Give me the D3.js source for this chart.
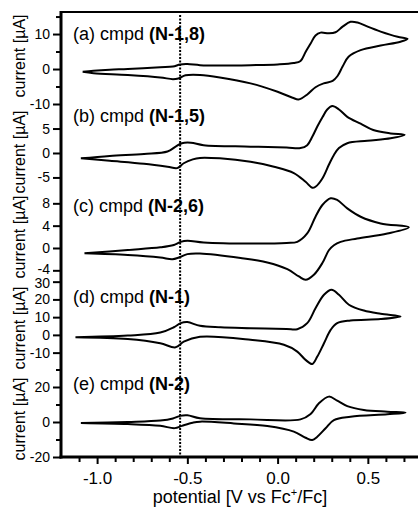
<!DOCTYPE html>
<html><head><meta charset="utf-8">
<script src="https://cdn.jsdelivr.net/npm/d3@7"></script>
<style>
html,body{margin:0;padding:0;background:#fff;}
svg{display:block;}
text{font-family:"Liberation Sans",Arial,sans-serif;fill:#000;}
</style></head><body>
<svg id="chart" width="418" height="507"></svg>
<script>
// ---------------- data ----------------
const potentialDomain = [-1.2, 0.8];
const potentialMajorTicks = [-1.0, -0.5, 0.0, 0.5];
const potentialMinorTicks = [-1.1,-0.9,-0.8,-0.7,-0.6,-0.4,-0.3,-0.2,-0.1,0.1,0.2,0.3,0.4,0.6,0.7];
const markerPotential = -0.54;

const panelLetters = ["(a)", "(b)", "(c)", "(d)", "(e)"];
const compoundNames = ["(N-1,8)", "(N-1,5)", "(N-2,6)", "(N-1)", "(N-2)"];
const currentDomains = [[-11, 16.3], [-9, 9.2], [-5.5, 8.9], [-19, 31.5], [-20, 30]];
const currentTicks = [[-10,-5,0,5,10,15], [-5,0,5], [-4,0,4,8], [-10,0,10,20,30], [-20,-10,0,10,20,30]];
const currentTickLabels = [[-10,0,10], [-5,0,5], [-4,0,4,8], [-10,0,10,20,30], [-20,0,20]];

// cyclic voltammograms: [potential V, current µA], forward scan then reverse scan
const cvA = [[-1.08,-0.8],[-1.02,-0.5],[-0.93,-0.2],[-0.83,0.0],[-0.65,0.5],[-0.58,0.7],[-0.54,1.3],[-0.50,1.4],[-0.43,1.1],[-0.32,1.0],[-0.15,1.1],[0.0,1.3],[0.089,1.7],[0.127,2.3],[0.155,4.9],[0.183,7.3],[0.21,9.6],[0.238,10.4],[0.283,10.2],[0.321,10.5],[0.36,12.1],[0.404,13.5],[0.443,13.3],[0.499,12.1],[0.571,10.7],[0.665,9.2],[0.72,8.6],
  [0.681,7.8],[0.571,6.7],[0.46,5.4],[0.393,3.5],[0.36,0.7],[0.332,-2.0],[0.305,-3.4],[0.255,-4.1],[0.21,-5.2],[0.166,-7.2],[0.116,-8.7],[0.083,-8.2],[0.0,-6.5],[-0.15,-4.1],[-0.32,-2.4],[-0.43,-1.7],[-0.51,-1.8],[-0.55,-2.7],[-0.58,-2.9],[-0.65,-2.4],[-0.83,-1.7],[-1.02,-1.2],[-1.08,-0.8]];
const cvB = [[-1.09,-1.1],[-0.93,-0.6],[-0.74,-0.2],[-0.61,0.3],[-0.565,1.3],[-0.53,2.0],[-0.48,2.1],[-0.41,1.6],[-0.15,1.3],[0.05,1.1],[0.127,1.0],[0.164,1.6],[0.192,3.3],[0.22,5.4],[0.25,7.4],[0.275,8.9],[0.303,9.6],[0.34,8.9],[0.386,7.4],[0.46,6.0],[0.53,4.7],[0.626,4.0],[0.704,3.7],
  [0.626,3.0],[0.497,2.5],[0.386,2.0],[0.34,1.0],[0.312,-0.4],[0.284,-2.4],[0.248,-5.2],[0.21,-6.9],[0.192,-7.1],[0.155,-5.9],[0.09,-4.1],[-0.02,-2.8],[-0.15,-1.8],[-0.32,-1.1],[-0.43,-1.0],[-0.47,-1.3],[-0.52,-2.1],[-0.556,-3.1],[-0.61,-2.8],[-0.74,-2.2],[-0.93,-1.6],[-1.09,-1.1]];
const cvC = [[-1.07,-0.95],[-0.83,-0.36],[-0.65,0.12],[-0.575,0.54],[-0.537,1.1],[-0.5,1.3],[-0.41,1.0],[-0.15,0.8],[0.05,0.9],[0.109,1.1],[0.164,2.6],[0.21,5.6],[0.248,7.7],[0.294,8.9],[0.33,8.6],[0.386,7.1],[0.46,5.6],[0.571,4.4],[0.727,3.7],
  [0.608,2.6],[0.441,1.7],[0.349,1.1],[0.312,0.5],[0.284,-0.4],[0.248,-2.7],[0.201,-4.8],[0.155,-5.7],[0.118,-5.1],[0.054,-3.8],[-0.057,-2.6],[-0.205,-1.8],[-0.43,-1.0],[-0.5,-1.1],[-0.547,-1.7],[-0.583,-2.0],[-0.65,-1.7],[-0.83,-1.25],[-1.07,-0.95]];
const cvD = [[-1.12,-1.3],[-0.83,-0.4],[-0.65,1.3],[-0.575,4.3],[-0.537,6.6],[-0.5,7.2],[-0.43,5.1],[-0.316,4.3],[-0.15,3.8],[0.05,3.3],[0.109,3.2],[0.164,6.6],[0.21,15],[0.257,22.6],[0.299,25.4],[0.34,22.6],[0.395,17],[0.478,13.7],[0.571,11.9],[0.681,10.4],
  [0.571,8.9],[0.404,8.1],[0.33,6.6],[0.294,2.8],[0.257,-4.7],[0.22,-12.2],[0.192,-16.4],[0.155,-14.1],[0.109,-9.4],[0.035,-5.6],[-0.15,-2.8],[-0.43,-1.1],[-0.52,-3.8],[-0.565,-7.0],[-0.65,-4.7],[-0.83,-2.3],[-1.12,-1.3]];
const cvE = [[-1.09,-0.6],[-0.83,0.0],[-0.65,0.8],[-0.58,2.0],[-0.54,3.5],[-0.5,3.8],[-0.43,2.1],[-0.15,1.5],[0.127,1.5],[0.183,4.6],[0.229,10.7],[0.284,14.5],[0.33,12.2],[0.386,9.1],[0.478,6.9],[0.608,5.9],[0.709,5.3],
  [0.608,4.4],[0.404,3.0],[0.312,1.1],[0.266,-3.6],[0.22,-8.4],[0.192,-10.3],[0.155,-9.0],[0.09,-5.5],[-0.057,-2.3],[-0.242,-0.8],[-0.43,0.2],[-0.47,-0.4],[-0.53,-2.2],[-0.57,-3.5],[-0.65,-2.2],[-0.83,-1.2],[-1.09,-0.6]];
const cvSeries = [cvA, cvB, cvC, cvD, cvE];

const xAxisTitle = "potential [V vs Fc";
const yAxisTitle = "current [µA]";

// ---------------- layout ----------------
const plotLeft = 61, plotRight = 422, plotTop = 12, plotBottom = 457;
const bands = [[12,107.5],[108,197],[198.3,278.7],[279,368.6],[369.5,457]];
const labelBaselines = [40,122,212,303,390];
const labelX = 73;
const titleCenters = [56,152,237,328,419];
const fmt = d => (d < 0 ? "-" : "") + String(Math.abs(d));
const fmtX = d => (d < 0 ? "-" : "") + Math.abs(d).toFixed(1);

const svg = d3.select("#chart");
svg.append("rect").attr("width",418).attr("height",507).attr("fill","#fff");

const x = d3.scaleLinear().domain(potentialDomain).range([plotLeft, plotRight]);

cvSeries.forEach((cv, i) => {
  const y = d3.scaleLinear().domain(currentDomains[i]).range([bands[i][1], bands[i][0]]);
  const line = d3.line().x(d => x(d[0])).y(d => y(d[1])).curve(d3.curveCatmullRom.alpha(0.5));
  svg.append("path").datum(cv).attr("d", line)
    .attr("fill","none").attr("stroke","#000").attr("stroke-width",2).attr("stroke-linejoin","round");

  const labeled = currentTickLabels[i];
  const minor = currentTicks[i].filter(t => !labeled.includes(t));
  const gMaj = svg.append("g").attr("transform",`translate(${plotLeft},0)`)
    .call(d3.axisLeft(y).tickValues(labeled).tickFormat(fmt).tickSize(8).tickPadding(3).tickSizeOuter(0));
  const gMin = svg.append("g").attr("transform",`translate(${plotLeft},0)`)
    .call(d3.axisLeft(y).tickValues(minor).tickFormat("").tickSize(5).tickSizeOuter(0));
  [gMaj, gMin].forEach(g => {
    g.select(".domain").remove();
    g.selectAll("line").attr("stroke","#000").attr("stroke-width",2);
  });
  const last = labeled.length - 1;
  gMaj.selectAll("text").attr("font-size",14).attr("font-family","Liberation Sans, Arial, sans-serif").attr("fill","#000")
    .attr("dy", (d, j) => {
      // keep labels of neighbouring panels from touching at the band edges
      if (i === 2 && d === labeled[0]) return "0.2em";
      if (i === 3 && d === labeled[last]) return "0.45em";
      return "0.32em";
    });

  // panel label
  const t = svg.append("text").attr("x",labelX).attr("y",labelBaselines[i]).attr("font-size",18);
  t.append("tspan").text(panelLetters[i] + " cmpd ");
  t.append("tspan").attr("font-weight","bold").text(compoundNames[i]);

  // y title
  svg.append("text").attr("transform",`translate(25,${titleCenters[i]}) rotate(-90)`)
    .attr("text-anchor","middle").attr("font-size",16).text(yAxisTitle);
});

// dotted marker line
svg.append("line").attr("x1",x(markerPotential)).attr("x2",x(markerPotential))
  .attr("y1",15).attr("y2",plotBottom)
  .attr("stroke","#000").attr("stroke-width",2).attr("stroke-dasharray","2,1.5");

// x axis
const gxMaj = svg.append("g").attr("transform",`translate(0,${plotBottom})`)
  .call(d3.axisBottom(x).tickValues(potentialMajorTicks).tickFormat(fmtX).tickSize(7).tickSizeOuter(0));
const gxMin = svg.append("g").attr("transform",`translate(0,${plotBottom})`)
  .call(d3.axisBottom(x).tickValues(potentialMinorTicks).tickFormat("").tickSize(5).tickSizeOuter(0));
[gxMaj, gxMin].forEach(g => {
  g.select(".domain").remove();
  g.selectAll("line").attr("stroke","#000").attr("stroke-width",2);
});
gxMaj.selectAll("text").attr("y",27).attr("dy",null).attr("font-size",17)
  .attr("font-family","Liberation Sans, Arial, sans-serif").attr("fill","#000");

// frame lines
svg.append("line").attr("x1",plotLeft).attr("x2",plotRight).attr("y1",plotTop).attr("y2",plotTop)
  .attr("stroke","#000").attr("stroke-width",2);
svg.append("line").attr("x1",plotLeft).attr("x2",plotLeft).attr("y1",plotTop-1).attr("y2",plotBottom+1.5)
  .attr("stroke","#000").attr("stroke-width",3);
svg.append("line").attr("x1",plotLeft-1.5).attr("x2",plotRight).attr("y1",plotBottom).attr("y2",plotBottom)
  .attr("stroke","#000").attr("stroke-width",3);

// x title
const xt = svg.append("text").attr("x",240).attr("y",503).attr("text-anchor","middle").attr("font-size",18);
xt.append("tspan").text(xAxisTitle);
xt.append("tspan").attr("font-size",11).attr("dy",-7).text("+");
xt.append("tspan").attr("dy",7).text("/Fc]");
</script></body></html>
